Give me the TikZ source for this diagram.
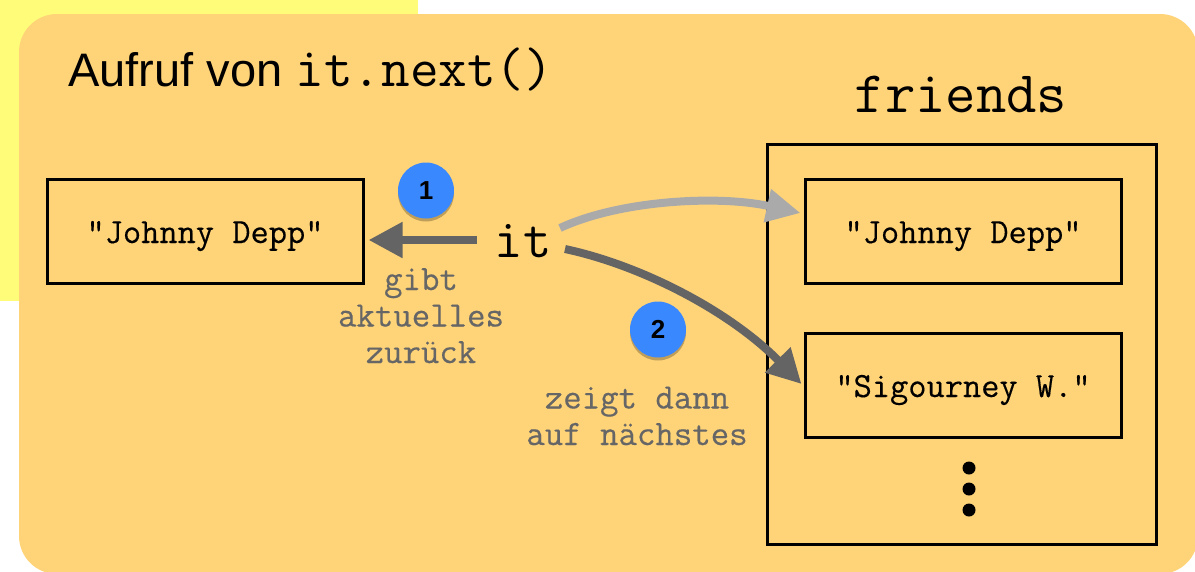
\documentclass[tikz,border=0pt]{standalone}
\usepackage{fontspec}
\setmainfont{Liberation Sans}
\setsansfont{Liberation Sans}
\newfontfamily\boxmono[FakeBold=0.35]{Latin Modern Mono}
\usetikzlibrary{arrows.meta,shadows,calc}
\definecolor{banana}{HTML}{FFFC79}
\definecolor{cantaloupe}{HTML}{FFD479}
\definecolor{stepblue}{HTML}{3A88FE}
\definecolor{arrowdark}{HTML}{646464}
\definecolor{arrowlight}{HTML}{AAAAAA}
\definecolor{labelgray}{HTML}{666666}
\begin{document}
\begin{tikzpicture}[x=1pt,y=-1pt,
  valbox/.style={draw=black, line width=3pt, minimum width=316pt, minimum height=104pt,
    inner sep=0pt, text height=52pt, text depth=28pt,
    font=\boxmono\fontsize{35.4pt}{40pt}\selectfont},
  listbox/.style={draw=black, line width=3pt, minimum width=389pt, minimum height=400pt, inner sep=0pt},
  stepmark/.style={circle, fill=stepblue, minimum size=56pt, inner sep=0pt,
    drop shadow={shadow xshift=0pt, shadow yshift=-3pt, opacity=0.25, fill=black},
    font=\sffamily\bfseries\fontsize{26pt}{28pt}\selectfont, text=black},
  graylabel/.style={align=center, text=labelgray,
    font=\boxmono\fontsize{35.8pt}{36.5pt}\selectfont, inner sep=0pt},
  darkarrow/.style={draw=arrowdark, line width=8pt,
    -{Triangle[length=34pt,width=34pt]}},
  lightarrow/.style={draw=arrowlight, line width=8pt,
    -{Triangle[length=34pt,width=32pt]}},
  dot/.style={circle, fill=black, minimum size=13pt, inner sep=0pt}
]
\useasboundingbox (0,0) rectangle (1195,571);
\fill[white] (0,0) rectangle (1195,571);
\fill[banana] (0,0) rectangle (418,301);
\fill[cantaloupe, rounded corners=38pt] (19,14) rectangle (1198,574);

\node[anchor=base west, inner sep=0pt, font=\sffamily\fontsize{47pt}{52pt}\selectfont]
  (title) at (68,86) {Aufruf von \texttt{\fontsize{55.6pt}{60pt}\selectfont it.next()}};
\node[anchor=base, inner sep=0pt, font=\ttfamily\fontsize{59pt}{64pt}\selectfont]
  (friendslabel) at (961,112) {friends};

\node[listbox] (friends) at (962,344) {};
\node[valbox] (jd1) at (205,231) {"Johnny Depp"};
\node[valbox] (jd2) at (963,231) {"Johnny Depp"};
\node[valbox] (sw) at (963,385) {"Sigourney W."};
\node[dot] (d1) at (969,468) {};
\node[dot] (d2) at (969,489) {};
\node[dot] (d3) at (969,510) {};

\node[anchor=base, inner sep=0pt, font=\ttfamily\fontsize{55pt}{60pt}\selectfont]
  (it) at (523,257) {it};

\node[graylabel, anchor=base] (lab1) at (421,363) {gibt\\aktuelles\\zurück};
\node[graylabel, anchor=base] (lab2) at (637,445) {zeigt dann\\auf nächstes};

\draw[darkarrow] ($(it.base)+(-46,-17)$) -- ($(jd1.east)+(4,9)$);
\draw[lightarrow] ($(it.base)+(37,-29)$) .. controls +(60,-28) and +(-82,-18) .. ($(jd2.west)+(-3,-18)$);
\draw[darkarrow] ($(it.base)+(42,-8)$) .. controls +(75,16) and +(-73,-74) .. ($(sw.west)+(-2,-1)$);

\node[stepmark] (s1) at (426,190.5) {1};
\node[stepmark] (s2) at (658,329.5) {2};
\end{tikzpicture}
\end{document}
